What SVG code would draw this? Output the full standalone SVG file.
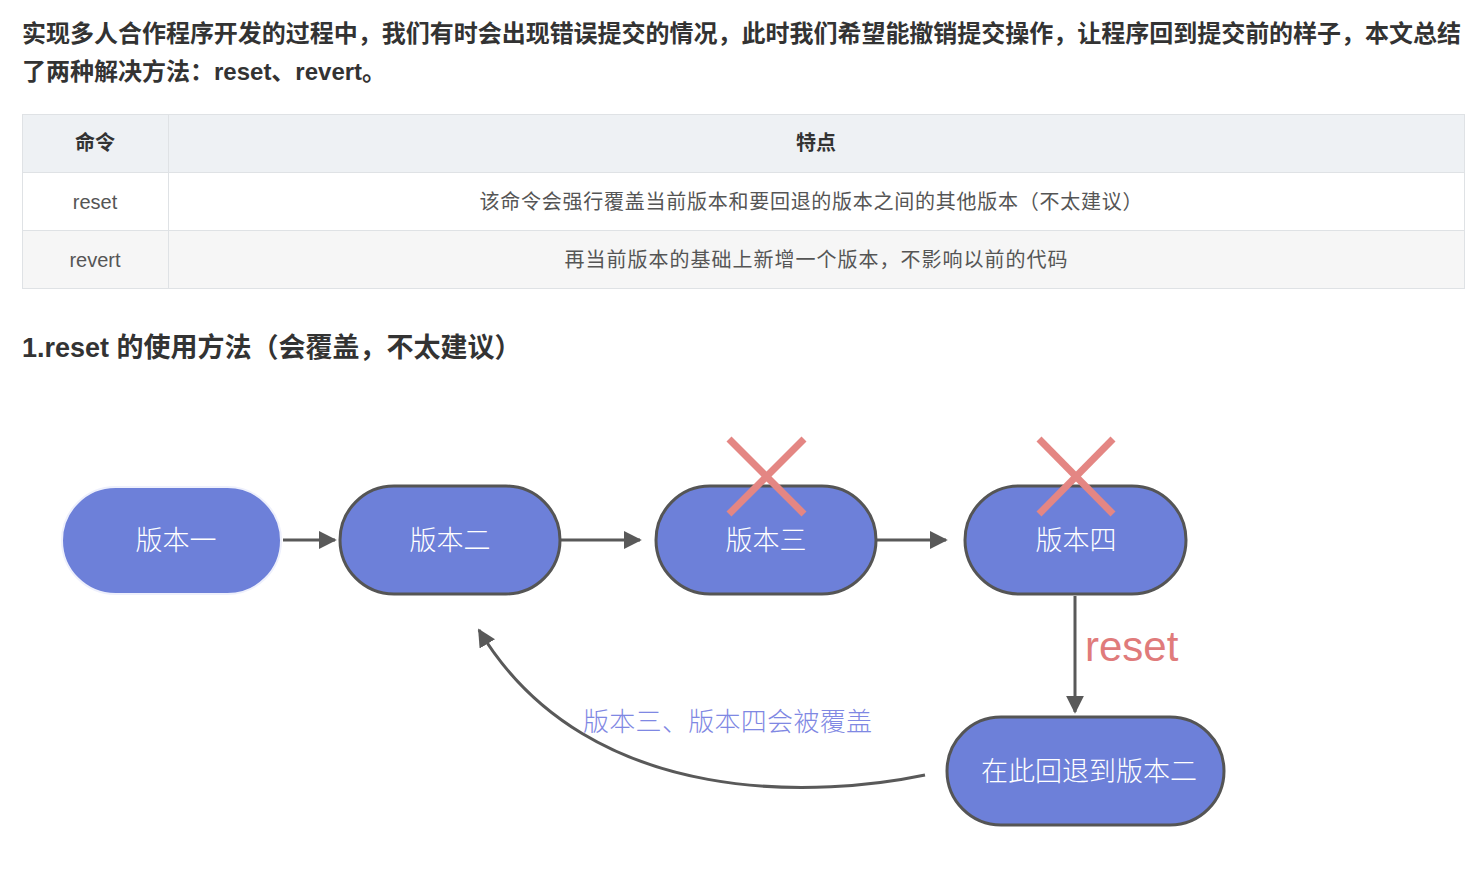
<svg xmlns="http://www.w3.org/2000/svg" width="1481" height="869" viewBox="0 0 1481 869">
<defs>
<style>
.t{font-family:"Liberation Sans","Noto Sans CJK SC",sans-serif}
.b{font-weight:bold;fill:#333}
.cell{font-size:20px;fill:#555;text-anchor:middle}
.node{fill:#6d80d9;stroke:#555;stroke-width:3}
.nl{font-family:"Noto Sans CJK SC",sans-serif;font-size:27px;fill:#fff;text-anchor:middle;font-weight:300}
.cross{stroke:#e48683;stroke-width:7}
.conn{stroke:#595959;stroke-width:3;fill:none}
</style>
<marker id="ah" viewBox="0 0 10 10" refX="9" refY="5" markerWidth="6" markerHeight="6" orient="auto" markerUnits="strokeWidth">
<path d="M0,0 L10,5 L0,10 z" fill="#595959"/>
</marker>
</defs>
<rect width="1481" height="869" fill="#fff"/>
<g id="intro">
<text class="t b" x="22" y="42" font-size="24" textLength="1439">实现多人合作程序开发的过程中，我们有时会出现错误提交的情况，此时我们希望能撤销提交操作，让程序回到提交前的样子，本文总结</text>
<text class="t b" x="22" y="80" font-size="24">了两种解决方法：reset、revert。</text>
</g>
<g id="table">
<rect x="22.5" y="114.5" width="1442" height="58" fill="#eef1f4" stroke="#dfe2e5"/>
<rect x="22.5" y="172.5" width="1442" height="58" fill="#fff" stroke="#dfe2e5"/>
<rect x="22.5" y="230.5" width="1442" height="58" fill="#f6f6f6" stroke="#dfe2e5"/>
<line x1="168.5" y1="114" x2="168.5" y2="289" stroke="#dfe2e5"/>
<text class="t b" x="95" y="150" font-size="20" text-anchor="middle" fill="#444">命令</text>
<text class="t b" x="816" y="150" font-size="20" text-anchor="middle" fill="#444">特点</text>
<text class="t cell" x="95" y="209">reset</text>
<text class="t cell" x="811" y="209" textLength="663">该命令会强行覆盖当前版本和要回退的版本之间的其他版本（不太建议）</text>
<text class="t cell" x="95" y="267">revert</text>
<text class="t cell" x="816" y="267" textLength="503">再当前版本的基础上新增一个版本，不影响以前的代码</text>
</g>
<g id="heading">
<text class="t b" x="22" y="357" font-size="27">1.reset 的使用方法（会覆盖，不太建议）</text>
</g>
<g id="connectors">
<line class="conn" x1="283" y1="540" x2="335" y2="540" marker-end="url(#ah)"/>
<line class="conn" x1="561" y1="540" x2="640" y2="540" marker-end="url(#ah)"/>
<line class="conn" x1="877" y1="540" x2="946" y2="540" marker-end="url(#ah)"/>
<line class="conn" x1="1075" y1="596" x2="1075" y2="712" marker-end="url(#ah)"/>
<path class="conn" d="M925,775 C830,795 590,815 479,630" marker-end="url(#ah)"/>
<text class="t" x="1085" y="661" font-size="42" fill="#e07b7b">reset</text>
<text x="583" y="731" font-family="Noto Sans CJK SC, sans-serif" font-size="26" fill="#7f88e3" font-weight="300" textLength="289">版本三、版本四会被覆盖</text>
</g>
<g id="n1">
<rect x="62" y="487" width="219" height="107" rx="53.5" fill="#6d80d9" stroke="#eef0fc" stroke-width="2"/>
<text class="nl" x="176" y="550">版本一</text>
</g>
<g id="n2">
<rect class="node" x="340" y="486" width="220" height="108" rx="54"/>
<text class="nl" x="450" y="550">版本二</text>
</g>
<g id="n3">
<rect class="node" x="656" y="486" width="220" height="108" rx="54"/>
<text class="nl" x="766" y="550">版本三</text>
<line class="cross" x1="729" y1="439" x2="804" y2="514"/>
<line class="cross" x1="804" y1="439" x2="729" y2="514"/>
</g>
<g id="n4">
<rect class="node" x="965" y="486" width="221" height="108" rx="54"/>
<text class="nl" x="1076" y="550">版本四</text>
<line class="cross" x1="1039" y1="439" x2="1113" y2="514"/>
<line class="cross" x1="1113" y1="439" x2="1039" y2="514"/>
</g>
<g id="n5">
<rect class="node" x="947" y="717" width="277" height="108" rx="54"/>
<text class="nl" x="1089" y="781">在此回退到版本二</text>
</g>
</svg>
